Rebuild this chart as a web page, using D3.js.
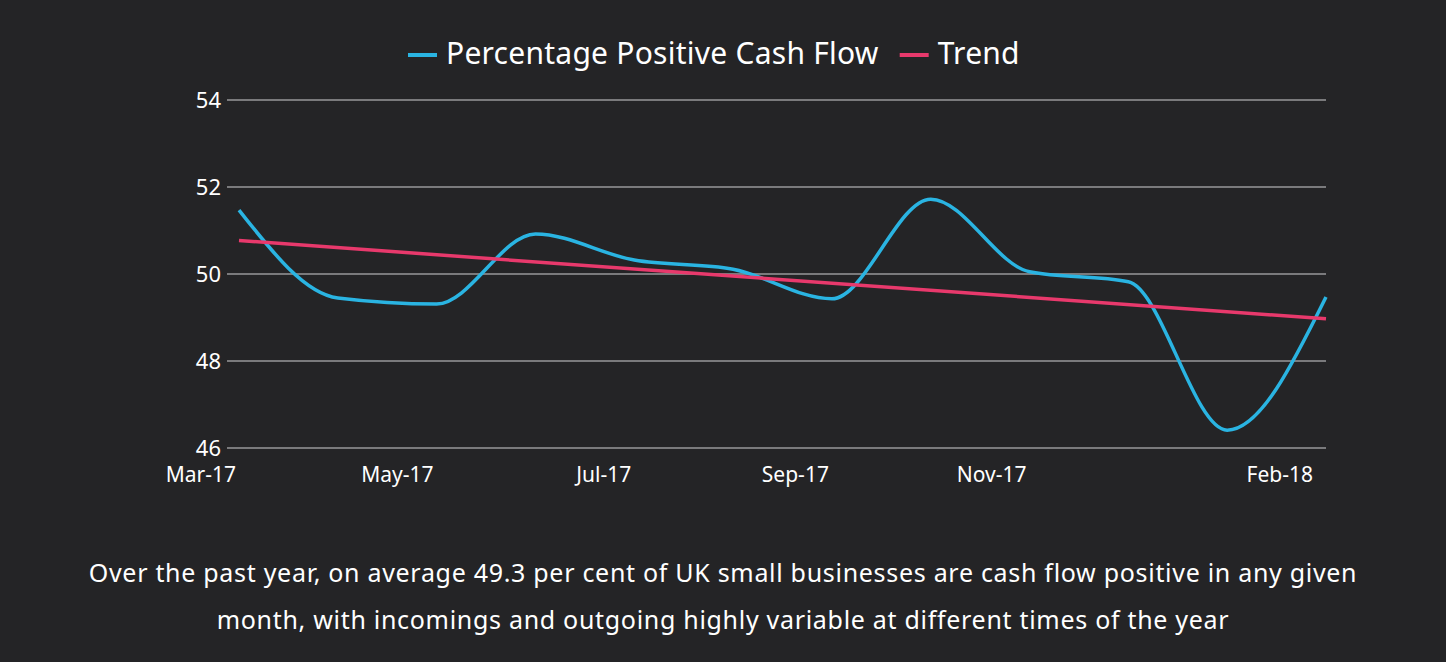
<!DOCTYPE html>
<html>
<head>
<meta charset="utf-8">
<script src="https://cdn.jsdelivr.net/npm/d3@7"></script>
<style>
  html, body { margin: 0; padding: 0; background: #242426; }
  svg { display: block; }
  text { font-family: "Noto Sans", "Open Sans", sans-serif; fill: #ffffff; }
</style>
</head>
<body>
<svg id="chart" width="1446" height="662"></svg>
<script>
// ---- data ----
const months = ["Mar-17","Apr-17","May-17","Jun-17","Jul-17","Aug-17","Sep-17","Oct-17","Nov-17","Dec-17","Jan-18","Feb-18"];
const cashFlow = [51.47, 49.45, 49.31, 50.92, 50.32, 50.11, 49.43, 51.72, 50.05, 49.82, 46.41, 49.47];
const trendMonths = ["Mar-17", "Feb-18"];
const trendValues = [50.77, 48.97];
const xTickLabels = ["Mar-17","May-17","Jul-17","Sep-17","Nov-17","Feb-18"];
const yTicks = [46, 48, 50, 52, 54];
const seriesNames = ["Percentage Positive Cash Flow", "Trend"];
const captionLines = [
  "Over the past year, on average 49.3 per cent of UK small businesses are cash flow positive in any given",
  "month, with incomings and outgoing highly variable at different times of the year"
];

// ---- layout ----
const W = 1446, H = 662;
const colors = { cash: "#2ab4e2", trend: "#e8396c", grid: "#7a7a7c" };
const svg = d3.select("#chart");
svg.append("rect").attr("width", W).attr("height", H).attr("fill", "#242426");

const x = d3.scalePoint().domain(months).range([239, 1326]);
const y = d3.scaleLinear().domain([46, 54]).range([448, 100]);
const gridLeft = 227, gridRight = 1326;

// grid + y labels
const yAxis = svg.append("g");
yAxis.selectAll("line").data(yTicks).join("line")
  .attr("x1", gridLeft).attr("x2", gridRight)
  .attr("y1", d => y(d)).attr("y2", d => y(d))
  .attr("stroke", colors.grid).attr("stroke-width", 2);
yAxis.selectAll("text").data(yTicks).join("text")
  .attr("x", gridLeft - 6).attr("y", d => y(d))
  .attr("dy", "0.37em")
  .attr("text-anchor", "end")
  .attr("font-size", 22)
  .text(d => d);

// x labels
svg.append("g").selectAll("text").data(xTickLabels).join("text")
  .attr("x", (d, i) => x(d) - (i === xTickLabels.length - 1 ? 13 : 3))
  .attr("y", 482)
  .attr("text-anchor", "end")
  .attr("font-size", 21)
  .text(d => d);

// lines
const line = d3.line().x(d => x(d[0])).y(d => y(d[1]));
svg.append("path")
  .datum(months.map((m, i) => [m, cashFlow[i]]))
  .attr("d", line.curve(d3.curveMonotoneX))
  .attr("fill", "none").attr("stroke", colors.cash).attr("stroke-width", 3.5);
svg.append("path")
  .datum(trendMonths.map((m, i) => [m, trendValues[i]]))
  .attr("d", d3.line().x(d => x(d[0])).y(d => y(d[1])))
  .attr("fill", "none").attr("stroke", colors.trend).attr("stroke-width", 3.5);

// legend
const legend = svg.append("g");
const items = [
  { name: seriesNames[0], color: colors.cash },
  { name: seriesNames[1], color: colors.trend }
];
let lx = 408;
items.forEach(it => {
  legend.append("line").attr("x1", lx).attr("x2", lx + 29).attr("y1", 55).attr("y2", 55)
    .attr("stroke", it.color).attr("stroke-width", 4);
  const t = legend.append("text").attr("x", lx + 38).attr("y", 64)
    .attr("font-size", 30).attr("letter-spacing", 0.25).text(it.name);
  lx += 38 + t.node().getComputedTextLength() + 21;
});

// caption
svg.append("g").selectAll("text").data(captionLines).join("text")
  .attr("x", 723).attr("y", (d, i) => 582 + i * 47)
  .attr("text-anchor", "middle")
  .attr("font-size", 25)
  .attr("letter-spacing", 0.7)
  .text(d => d);
</script>
</body>
</html>
